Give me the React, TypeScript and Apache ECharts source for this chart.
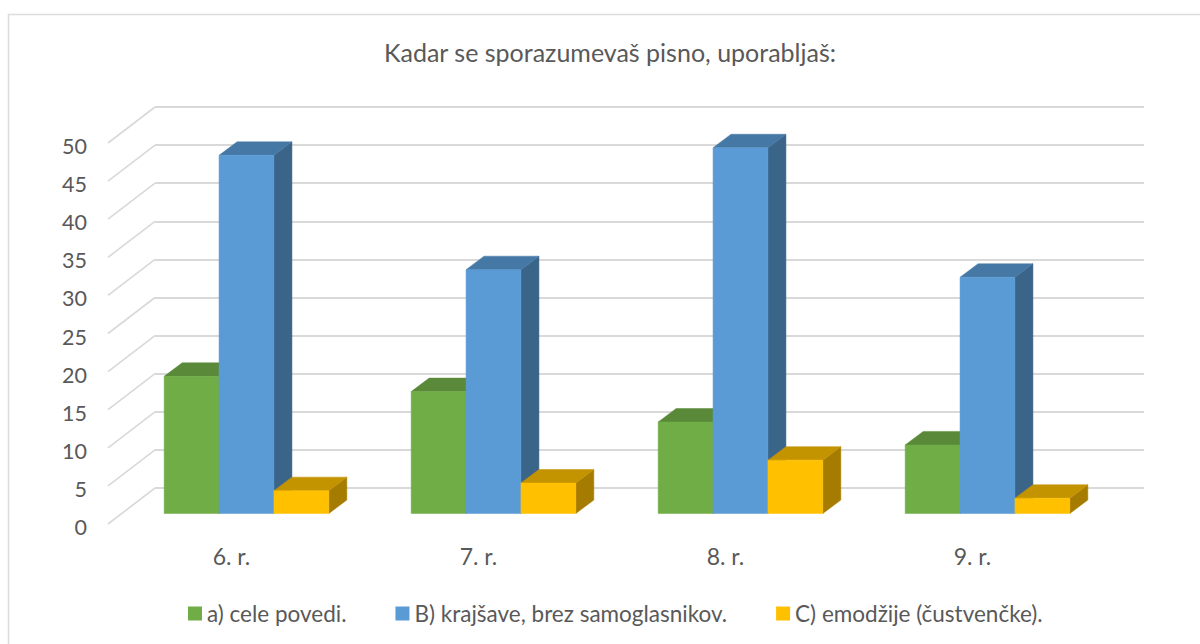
import React, { useEffect, useRef } from "react";
import * as echarts from "echarts";

const titleText = "Kadar se sporazumevaš pisno, uporabljaš:";
const categories = ["6. r.", "7. r.", "8. r.", "9. r."];
const seriesAName = "a) cele povedi.";
const seriesBName = "B) krajšave, brez samoglasnikov.";
const seriesCName = "C) emodžije (čustvenčke).";
const seriesA = [18, 16, 12, 9];
const seriesB = [47, 32, 48, 31];
const seriesC = [3, 4, 7, 2];
const gridTicks = [0, 5, 10, 15, 20, 25, 30, 35, 40, 45, 50];

const FONT = "Lato, Carlito, Calibri, sans-serif";
const TEXT = "#595959";
const LINE = "#d9d9d9";
const DEPTH_X = 18;
const DEPTH_Y = 13.5;
const WALL_DX = 47;
const WALL_DY = 36;

function barRenderer(slot: number, front: string, top: string, side: string) {
  return (_params: any, api: any) => {
    const cat = api.value(0);
    const val = api.value(1);
    const band = api.size([1, 0])[0];
    const w = band / 4.5;
    const base = api.coord([cat, 0]);
    const head = api.coord([cat, val]);
    const x0 = base[0] - 1.5 * w + slot * w;
    const x1 = x0 + w;
    const yb = base[1];
    const yt = head[1];
    return {
      type: "group",
      children: [
        {
          type: "polygon",
          shape: { points: [[x1, yt], [x1 + DEPTH_X, yt - DEPTH_Y], [x1 + DEPTH_X, yb - DEPTH_Y], [x1, yb]] },
          style: { fill: side, stroke: side, lineWidth: 0.5 },
        },
        {
          type: "polygon",
          shape: { points: [[x0, yt], [x0 + DEPTH_X, yt - DEPTH_Y], [x1 + DEPTH_X, yt - DEPTH_Y], [x1, yt]] },
          style: { fill: top, stroke: top, lineWidth: 0.5 },
        },
        {
          type: "rect",
          shape: { x: x0, y: yt, width: w, height: yb - yt },
          style: { fill: front, stroke: front, lineWidth: 0.5 },
        },
      ],
    };
  };
}

function diagonalRenderer(_params: any, api: any) {
  const p = api.coord([0, api.value(1)]);
  const band = api.size([1, 0])[0];
  const x = p[0] - band / 2;
  return {
    type: "line",
    shape: { x1: x, y1: p[1], x2: x - WALL_DX, y2: p[1] + WALL_DY },
    style: { stroke: LINE, lineWidth: 1.6 },
  };
}

const hiddenCat = (gridIndex: number) => ({
  type: "category" as const,
  gridIndex,
  data: categories,
  show: false,
});

export default function App() {
  const ref = useRef<HTMLDivElement>(null);

  useEffect(() => {
    document.body.style.margin = "0";
    const chart = echarts.init(ref.current!, undefined, { renderer: "svg" });
    const makeBar = (name: string, values: number[], slot: number, c: string[]) => ({
      type: "custom" as const,
      name,
      xAxisIndex: 2,
      yAxisIndex: 2,
      coordinateSystem: "cartesian2d",
      itemStyle: { color: c[0] },
      encode: { x: 0, y: 1 },
      data: values.map((v, i) => [i, v]),
      renderItem: barRenderer(slot, c[0], c[1], c[2]),
      z: 5,
    });
    chart.setOption({
      animation: false,
      backgroundColor: "#ffffff",
      textStyle: { fontFamily: FONT },
      title: {
        text: titleText,
        left: 605,
        top: 34,
        textAlign: "center",
        textStyle: { fontFamily: FONT, fontSize: 25, fontWeight: "normal", color: TEXT },
      },
      legend: {
        left: 183,
        top: 597,
        icon: "rect",
        itemWidth: 14,
        itemHeight: 14,
        itemGap: 49,
        data: [seriesAName, seriesBName, seriesCName],
        textStyle: { fontFamily: FONT, fontSize: 22.5, color: TEXT },
      },
      grid: [
        { left: 155, width: 989, top: 107, height: 381 },
        { left: 108, width: 988, top: 146, height: 381 },
        { left: 123, width: 988, top: 132.5, height: 381 },
      ],
      xAxis: [
        hiddenCat(0),
        {
          type: "category",
          gridIndex: 1,
          data: categories,
          axisLine: { show: false },
          axisTick: { show: false },
          axisLabel: { color: TEXT, fontSize: 23, fontFamily: FONT, margin: 17 },
        },
        hiddenCat(2),
      ],
      yAxis: [
        {
          type: "value",
          gridIndex: 0,
          min: 0,
          max: 50,
          interval: 5,
          axisLabel: { show: false },
          axisLine: { show: false },
          axisTick: { show: false },
          splitLine: { show: true, lineStyle: { color: LINE, width: 2 } },
        },
        {
          type: "value",
          gridIndex: 1,
          min: 0,
          max: 50,
          interval: 5,
          axisLine: { show: false },
          axisTick: { show: false },
          splitLine: { show: false },
          axisLabel: { color: TEXT, fontSize: 21.5, fontFamily: FONT, margin: 21 },
        },
        { type: "value", gridIndex: 2, min: 0, max: 50, interval: 5, show: false },
      ],
      series: [
        {
          type: "custom",
          name: "walls",
          xAxisIndex: 0,
          yAxisIndex: 0,
          coordinateSystem: "cartesian2d",
          encode: { x: 0, y: 1 },
          data: gridTicks.map((t) => [0, t]),
          renderItem: diagonalRenderer,
          silent: true,
          z: 1,
        },
        makeBar(seriesAName, seriesA, 0, ["#70AD47", "#5A8A39", "#4F7A32"]),
        makeBar(seriesBName, seriesB, 1, ["#5B9BD5", "#4678A5", "#3A6488"]),
        makeBar(seriesCName, seriesC, 2, ["#FFC000", "#C49300", "#A67C00"]),
      ],
      graphic: [
        {
          type: "rect",
          shape: { x: 8.5, y: 14.5, width: 1400, height: 900 },
          style: { fill: "none", stroke: "#dcdcdc", lineWidth: 1.5 },
          silent: true,
          z: 0,
        },
      ],
    });
    return () => chart.dispose();
  }, []);

  return <div ref={ref} style={{ width: 1200, height: 644 }} />;
}
